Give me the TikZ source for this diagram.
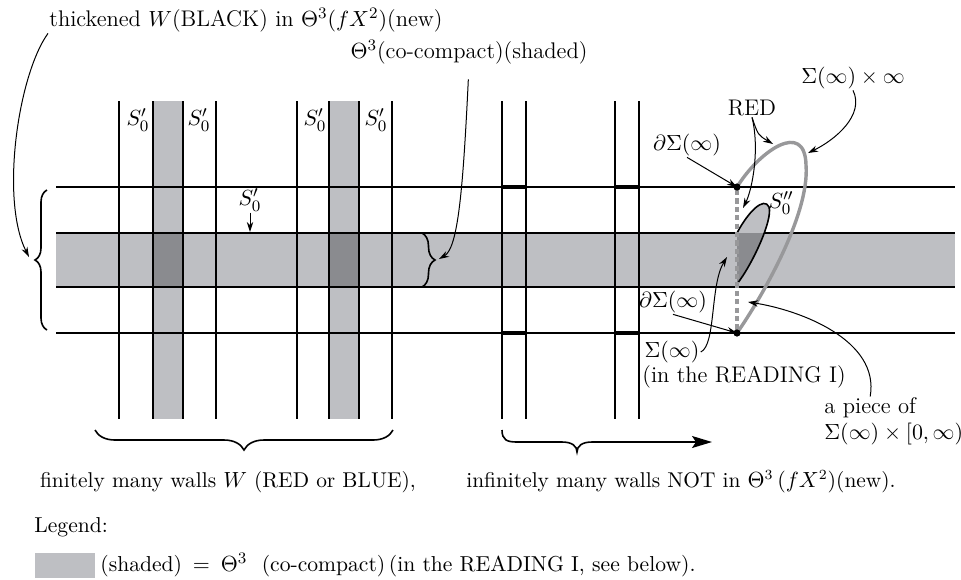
\documentclass[tikz,border=0pt]{standalone}
\usetikzlibrary{arrows.meta,decorations.pathreplacing}
\definecolor{shadegray}{RGB}{190,191,195}
\definecolor{deepgray}{RGB}{138,139,143}
\definecolor{loopgray}{RGB}{152,152,154}
\begin{document}
\begin{tikzpicture}[x=0.5pt,y=-0.5pt,font=\fontsize{11.3}{13}\selectfont,
  wall/.style={line width=0.8pt},
  thickseg/.style={line width=2pt},
  ptr/.style={-{Stealth[length=5pt,width=3.2pt]},line width=0.5pt},
  lbl/.style={inner sep=0.5pt}]
\useasboundingbox (0,0) rectangle (961,579);
\fill[shadegray] (56,233) rectangle (955,287);
\fill[shadegray] (153,101) rectangle (183,419);
\fill[shadegray] (329,101) rectangle (359,419);
\fill[deepgray] (153,233) rectangle (183,287);
\fill[deepgray] (329,233) rectangle (359,287);
\draw[wall] (56,187) -- (955,187);
\draw[wall] (56,233) -- (955,233);
\draw[wall] (56,287) -- (955,287);
\draw[wall] (56,333) -- (955,333);
\draw[wall] (119,101) -- (119,419);
\draw[wall] (153,101) -- (153,419);
\draw[wall] (183,101) -- (183,419);
\draw[wall] (216,101) -- (216,419);
\draw[wall] (297,101) -- (297,419);
\draw[wall] (329,101) -- (329,419);
\draw[wall] (359,101) -- (359,419);
\draw[wall] (392,101) -- (392,419);
\draw[wall] (502,101) -- (502,419);
\draw[wall] (526,101) -- (526,419);
\draw[wall] (615,101) -- (615,419);
\draw[wall] (639,101) -- (639,419);
\draw[thickseg] (502,187) -- (526,187);
\draw[thickseg] (615,187) -- (639,187);
\draw[thickseg] (502,333) -- (526,333);
\draw[thickseg] (615,333) -- (639,333);
% the leaf S_0''
\fill[shadegray] (737,233) .. controls (748,212) and (764,196) .. (769,207) .. controls (773,220) and (752,265) .. (737,284) -- cycle;
\begin{scope}
\clip (56,233) rectangle (955,287);
\fill[deepgray] (737,233) .. controls (748,212) and (764,196) .. (769,207) .. controls (773,220) and (752,265) .. (737,284) -- cycle;
\end{scope}
\draw[wall] (737,233) .. controls (748,212) and (764,196) .. (769,207) .. controls (773,220) and (752,265) .. (737,284);
\draw[loopgray,line width=1.7pt] (737,187) .. controls (760,150) and (805,120) .. (806,165) .. controls (810,215) and (760,300) .. (737,333);
\draw[loopgray,line width=1.6pt,dash pattern=on 2.6pt off 1.6pt] (737,190) -- (737,333);
\coordinate (dtop) at (737,187);
\coordinate (dbot) at (737,333);
\fill (dtop) circle (1.8pt);
\fill (dbot) circle (1.8pt);
% braces
\draw[wall,decorate,decoration={brace,amplitude=6pt}] (47,330) -- (47,190);
\draw[wall,decorate,decoration={brace,amplitude=6.5pt}] (422,233) -- (422,287);
\draw[wall,decorate,decoration={brace,amplitude=10pt}] (393,430) -- (95,430);
\draw[wall,-{Stealth[length=10pt,width=6pt,inset=2pt]}] (502,430) .. controls (502,440) and (507,442) .. (517,442) -- (562,442) .. controls (572,442) and (577,446) .. (577,452) .. controls (577,446) and (582,442) .. (592,442) -- (712,442);
\coordinate (lbtip) at (29,257);
\coordinate (rbtip) at (439,259);
\coordinate (sbandtip) at (250,232);
\coordinate (looptr) at (808,153);
\coordinate (loopt) at (773,144);
\coordinate (leaftip) at (743,208);
\coordinate (leafin) at (727,257);
\coordinate (loopbl) at (748,302);
% labels
\node[lbl,anchor=west] (thk) at (48,20) {thickened $W$(BLACK) in $\Theta^3(fX^2)$(new)};
\node[lbl] (cocomp) at (469,52) {$\Theta^3$(co-compact)(shaded)};
\node[lbl] (sa) at (138,120) {$S_0'$};
\node[lbl] (sb) at (199,120) {$S_0'$};
\node[lbl] (sc) at (315,120) {$S_0'$};
\node[lbl] (sd) at (376,120) {$S_0'$};
\node[lbl] (sband) at (250,200) {$S_0'$};
\node[lbl] (sinfty) at (853,78) {$\Sigma(\infty)\times\infty$};
\node[lbl] (red) at (752,108) {RED};
\node[lbl] (dsa) at (687,145) {$\partial\Sigma(\infty)$};
\node[lbl] (dsb) at (673,302) {$\partial\Sigma(\infty)$};
\node[lbl] (leaf) at (781,203) {$S_0''$};
\node[lbl] (sig) at (672,352) {$\Sigma(\infty)$};
\node[lbl,anchor=west] (reading) at (641,377) {(in the READING I)};
\node[lbl,anchor=west] (piece) at (823,408) {a piece of};
\node[lbl,anchor=west] (piecesig) at (823,434) {$\Sigma(\infty)\times[0,\infty)$};
\node[lbl,font=\fontsize{10.7}{13}\selectfont] (finite) at (228,482) {finitely many walls $W$ (RED or BLUE),};
\node[lbl,font=\fontsize{10.7}{13}\selectfont] (infinite) at (681,482) {infinitely many walls NOT in $\Theta^3\,(fX^2)$(new).};
\node[lbl,anchor=west,font=\fontsize{10.8}{13}\selectfont] (legend) at (33,527) {Legend:};
\fill[shadegray] (35,553) rectangle (95,578);
\node[lbl,anchor=west,font=\fontsize{10.8}{13}\selectfont] (legtext) at (99,565) {(shaded) $\,=\,$ $\Theta^3$ \ (co-compact)\,(in the READING I, see below).};
% pointers
\draw[ptr] (thk.south west) .. controls (18,75) and (0,200) .. (lbtip);
\draw[ptr,shorten <=7pt] (cocomp.south) .. controls (463,190) and (458,248) .. (rbtip);
\draw[ptr] (sband.south) -- (sbandtip);
\draw[ptr] (sinfty.south) .. controls (865,115) and (835,140) .. (looptr);
\draw[ptr] (red.south) .. controls (758,135) .. (loopt);
\draw[ptr] (red.south) .. controls (760,150) and (752,190) .. (leaftip);
\draw[ptr] (dsa.south) -- (dtop);
\draw[ptr] (dsb.south) -- (dbot);
\draw[ptr] (sig.east) .. controls (716,345) and (710,285) .. (leafin);
\draw[ptr] (piece.north) .. controls (880,340) and (800,310) .. (loopbl);
\end{tikzpicture}
\end{document}
